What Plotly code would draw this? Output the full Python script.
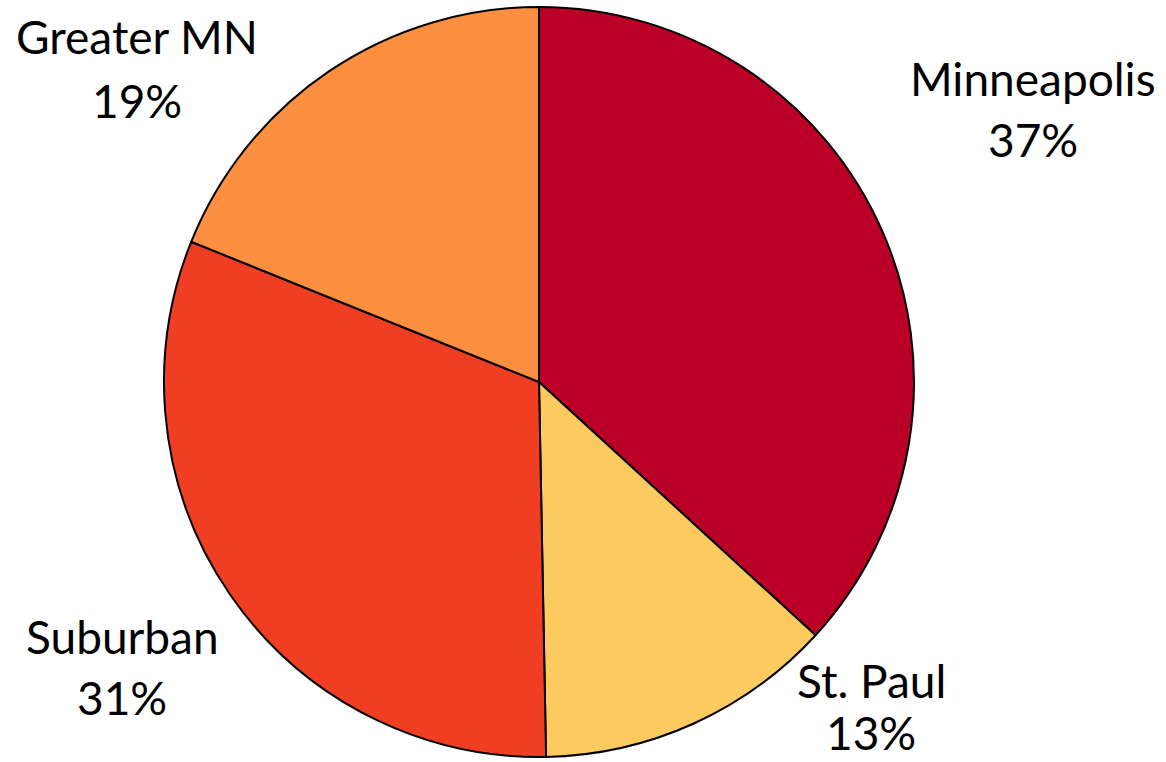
import plotly.graph_objects as go

# share of total, clockwise from 12 o'clock
regions = ["Minneapolis", "St. Paul", "Suburban", "Greater MN"]
shares = [36.8, 12.9, 31.4, 18.9]
colors = ["#BA0026", "#FDCA5F", "#F03E22", "#FD8F40"]

W, H = 1166, 762
cx, cy, r = 539, 382, 375

fig = go.Figure(go.Pie(
    labels=regions, values=shares, sort=False, direction="clockwise",
    rotation=0, textinfo="none", hoverinfo="label+percent",
    marker=dict(colors=colors, line=dict(color="black", width=2)),
    domain=dict(x=[(cx - r) / W, (cx + r) / W],
                y=[(H - cy - r) / H, (H - cy + r) / H]),
    showlegend=False,
))

# label spots (pixel centres of name line / percent line)
label_pos = {
    "Minneapolis": (1033, 78, 140),
    "St. Paul": (871, 680, 732),
    "Suburban": (122, 636, 697),
    "Greater MN": (137, 37, 100),
}
total = sum(shares)
font = dict(family="Lato, Open Sans, sans-serif", size=46, color="black")
for name, val in zip(regions, shares):
    x, y1, y2 = label_pos[name]
    for txt, y in ((name, y1), (f"{round(100 * val / total)}%", y2)):
        fig.add_annotation(x=x / W, y=1 - y / H, xref="paper", yref="paper",
                           text=txt, showarrow=False, font=font, borderpad=0,
                           xanchor="center", yanchor="middle")

fig.update_layout(width=W, height=H, margin=dict(l=0, r=0, t=0, b=0),
                  paper_bgcolor="white", plot_bgcolor="white")
fig.write_html("out.html", config={"displayModeBar": False},
               post_script="document.body.style.margin='0px';")
